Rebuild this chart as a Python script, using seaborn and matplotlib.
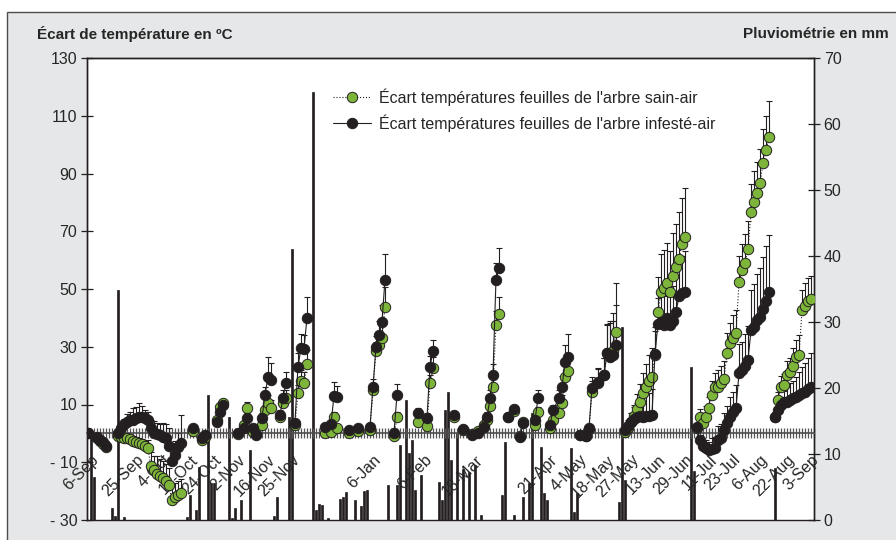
import numpy as np
import pandas as pd
import matplotlib
matplotlib.use('Agg')
import matplotlib.pyplot as plt
from matplotlib.lines import Line2D
from matplotlib.patches import Rectangle
from matplotlib.ticker import MultipleLocator
import seaborn as sns

# --- jours de mesure (position sur l'axe des catégories) ---
jour = [0, 3, 4, 5, 6,
        10, 11, 12, 13, 14, 15, 16, 17, 18, 19, 20, 21, 22, 23, 24, 25, 26, 27, 28, 29, 30, 31,
        35, 38, 39, 43, 44, 45, 50, 52, 53, 55, 56, 58, 59, 60, 61, 64, 65, 66,
        69, 70, 71, 72, 73, 79, 81, 82, 83, 87, 90,
        94, 95, 96, 97, 98, 99, 102, 103, 110, 113, 114, 115, 122,
        125, 128, 130, 132, 133, 134, 135, 136, 137, 140, 142, 144, 145, 149, 150,
        154, 155, 157, 158, 159, 160,
        164, 166, 167, 168, 170, 172, 173, 174, 175, 176,
        179, 180, 181, 182, 183, 184, 185, 186, 187, 188, 189, 190, 191, 192, 193, 194, 195, 196, 197, 198, 199,
        203, 204, 205, 206, 207, 208, 209, 210, 211, 212, 213, 214, 215, 216, 217, 218, 219, 220, 221, 222,
        223, 224, 225, 226, 227,
        229, 230, 231, 232, 233, 234, 235, 236, 237, 238, 239, 240, 241]
# premier jour de chaque série continue de mesures
debut_serie = [0, 10, 35, 38, 43, 50, 55, 58, 64, 69, 79, 87, 94, 102, 110, 122, 125, 140, 144, 149,
               154, 164, 179, 203, 229]

sain = [0, -1.7, -2.8, -3.8, -4.8,
        -1, -1.4, -1.7, -1.7, -2, -2.8, -3.1, -3.5, -3.8, -4.5, -5.2, -11.4, -12.8, -13.9, -14.9, -15.6,
        -16.6, -18, -23.2, -22.2, -21.5, -20.8,
        0.8, -2.4, -1.4, 4.5, 9.0, 10.4, -0.3, 2.8, 8.7, 0.5, -0.3, 2.8, 8.0, 10.4, 8.7, 5.5, 10.4, 12.1,
        2.8, 13.9, 18.0, 17.3, 23.9, 0, 0.5, 5.5, 1.7, 0.3, 0.7,
        1, 14.9, 28.7, 30.5, 33.2, 43.6, -1, 5.5, 3.8, 2.4, 17.3, 22.5, 5.5,
        1, -0.3, 0.7, 2.8, 4.5, 9.4, 15.9, 37.4, 41.2, 5.5, 7.6, -1.0, 3.8, 2.8, 7.3,
        1.7, 4.5, 6.9, 10.4, 19.4, 21.5,
        -0.5, -0.8, 1.5, 14.2, 17.3, 20.1, 28, 27, 28.7, 35,
        0.5, 2, 4, 6, 8.5, 11, 14, 16, 18, 19.5, 27, 42, 49, 50.5, 52, 49, 54.5, 57.5, 60.5, 65.5, 68,
        1.7, 5.5, 3.5, 5.5, 8.7, 13.2, 15.9, 15.9, 17.3, 19, 27.7, 31.2, 32.9, 34.6, 52.3, 56.5, 58.9,
        63.7, 76.5, 80, 83.1, 86.6, 93.5, 98, 102.5,
        5.5, 11.4, 15.9, 16.6, 20.1, 21.1, 23.5, 26.3, 27, 42.6, 44, 45.7, 46.4]
sain_err = [0.5, 1, 1, 1, 1,
            1, 1, 1, 1, 1, 2, 2, 2, 2, 2, 3, 5, 5, 6, 6, 6, 6, 6, 6, 5, 5, 5,
            1, 1, 1, 1, 1.5, 1.5, 1, 1.5, 2, 1, 1, 1, 2, 3, 3, 1, 2, 3,
            1, 3, 4, 4, 5, 1, 1, 2, 1, 0.5, 0.5,
            1, 2, 3, 4, 5, 7, 1, 2, 1, 1, 3, 4, 1,
            0.5, 0.5, 0.5, 1, 1, 2, 3, 5, 6, 1, 1, 1, 1, 1, 2,
            1, 2, 3, 3, 5, 6,
            0.5, 0.5, 1, 4, 5, 6, 10, 12, 13, 17,
            1, 2, 3, 4, 5, 6, 7, 8, 9, 10, 10, 12, 13, 13, 14, 14, 15, 15, 16, 16, 17,
            2, 3, 3, 4, 4, 5, 5, 6, 6, 6, 7, 7, 8, 8, 9, 9, 10, 10, 10, 11, 11, 12, 12, 12, 12.5,
            2, 3, 4, 4, 5, 5, 6, 6, 7, 7, 8, 8, 8]

infeste = [0, -1.4, -2.4, -3.1, -4.2,
           0, 1.7, 3.1, 3.8, 4.5, 4.8, 5.2, 5.5, 5.5, 5.2, 4.5, 1.7, 0.3, -0.3, -0.7, -1.4, -1.7, -4.2,
           -9.5, -7.5, -4.8, -3.5,
           1.7, -1.7, -0.7, 3.8, 7.3, 9.7, 0, 2, 5.2, 1.7, -0.7, 5.2, 13.2, 19.4, 18.4, 6.2, 12.1, 17.3,
           3.5, 22.9, 29.4, 29.1, 39.8, 2.1, 3.1, 12.8, 12.5, 1.0, 1.7,
           2.1, 15.9, 29.8, 33.9, 38.4, 53, 0, 13.2, 6.9, 5.2, 22.9, 28.4, 6.2,
           1.4, -0.7, 0.3, 2.1, 5.5, 12.1, 20.1, 53, 57.1, 5.5, 8.3, -1.4, 3.5, 4.5, 12.1,
           2.8, 8, 12.1, 15.9, 24.6, 26.3,
           -0.7, -1, 1.7, 15.6, 17.7, 20.1, 27.7, 26.3, 27, 30.5,
           1, 2.5, 4, 5, 5.5, 6, 5.5, 6, 6, 6.5, 27.5, 38, 38.5, 37.5, 40, 37.5, 39, 42, 47.5, 48.5, 49,
           2.1, -2.4, -4.5, -5.2, -5.9, -5.5, -5.2, -2.4, -1.7, 1, 3.5, 5.5, 7.3, 8.7, 20.8, 21.8, 23.5,
           25.3, 35.7, 36.7, 39.1, 40.2, 43, 46, 48.8,
           5.5, 8, 9.7, 10.7, 11, 11.4, 12.1, 12.5, 13.2, 13.9, 14.5, 15.2, 15.9]
infeste_err = [0.5, 1, 1, 1, 1.5,
               1, 2, 2, 3, 3, 4, 4, 5, 4, 3, 3, 3, 4, 4, 4, 5, 5, 6, 6, 5, 5, 10,
               1, 1, 1, 1, 1.5, 1.5, 1, 1.5, 2, 1, 1, 2, 3, 7, 6, 2, 3, 4,
               1, 5, 5, 5, 7.5, 1, 1, 5, 4, 0.5, 0.5,
               1, 3, 4, 5, 6, 9, 1, 4, 2, 2, 4, 4, 1,
               0.5, 0.5, 0.5, 1, 2, 3, 4, 6, 7, 1, 1, 1, 1, 1, 3,
               1, 2, 3, 4, 6, 8,
               0.5, 0.5, 1, 4, 5, 6, 10, 12, 12, 14,
               1, 2, 3, 4, 5, 6, 7, 8, 8, 9, 8, 9, 10, 10, 11, 11, 12, 12, 13, 13, 14,
               1, 2, 2, 3, 3, 4, 4, 5, 5, 6, 6, 7, 7, 8, 10, 10, 11, 12, 14, 15, 16, 17, 18, 19, 20,
               1, 2, 3, 4, 5, 6, 6, 7, 8, 9, 10, 11, 12]

# --- pluviométrie ---
pluie_jour = [1, 2, 8, 9, 10, 12, 33, 34, 36, 37, 40, 41, 42, 47, 48, 49, 51, 54, 62, 63, 67, 68,
              75, 76, 77, 78, 80, 84, 85, 86, 89, 91, 92, 93, 100, 103, 104, 106, 107, 108, 109, 111,
              117, 118, 119, 120, 121, 123, 125, 127, 129, 131, 138, 139, 142, 145, 147, 148, 151, 152,
              153, 161, 162, 163, 177, 178, 179, 201, 202, 229]
pluie_mm = [12.9, 6.5, 1.8, 0.6, 34.8, 0.5, 0.5, 3.8, 1.5, 8.0, 19.0, 5.6, 5.6, 15.6, 0.3, 1.8, 3.0, 10.6,
            0.6, 3.5, 15.6, 41.0, 64.8, 1.5, 2.4, 2.3, 0.3, 3.2, 3.5, 4.2, 3.0, 2.1, 4.4, 4.5, 5.3, 5.3,
            11.4, 18.2, 10.2, 12.1, 4.5, 6.8, 5.8, 3.0, 16.7, 19.4, 9.1, 13.2, 7.8, 7.3, 8.3, 0.8, 3.8,
            11.8, 0.8, 3.5, 5.6, 16.2, 11.1, 4.1, 3.0, 10.9, 1.2, 4.1, 2.7, 29.2, 6.0, 23.2, 7.4, 7.9]

# --- étiquettes de dates ---
date_jour = [1, 16, 25, 34, 42, 50, 60, 68, 95, 112, 129, 154, 164, 173, 181, 190, 199, 207, 215, 224,
             233, 241]
date_label = ['6-Sep', '25-Sep', '4-Oct', '14-Oct', '24-Oct', '2-Nov', '16-Nov', '25-Nov', '6-Jan',
              '6-Feb', '18-Mar', '21-Apr', '4-May', '18-May', '27-May', '13-Jun', '29-Jun', '11-Jul',
              '23-Jul', '6-Aug', '22-Aug', '3-Sep']

temp_ticks = [-30, -10, 10, 30, 50, 70, 90, 110, 130]
temp_labels = ['- 30', '- 10', '10', '30', '50', '70', '90', '110', '130']

NOIR = '#231f20'
VERT = '#7db53b'

df = pd.DataFrame({'jour': jour, 'sain': sain, 'sain_err': sain_err,
                   'infeste': infeste, 'infeste_err': infeste_err})
df['serie'] = np.searchsorted(debut_serie, df['jour'], side='right')

sns.set_style("ticks")
plt.rcParams['font.family'] = ['Liberation Sans', 'DejaVu Sans']

fig = plt.figure(figsize=(8.96, 5.40), dpi=100)
fig.patch.set_facecolor('white')
fig.add_artist(Rectangle((7 / 896, -0.05), 1.0, 1 - 12 / 540 + 0.05, transform=fig.transFigure,
                         facecolor='#e6e7e8', edgecolor='#4d4d4f', lw=1.0, zorder=-10))

ax = fig.add_axes([87 / 896, 20 / 540, 727 / 896, 462 / 540])
ax2 = ax.twinx()
ax.set_zorder(2)
ax2.set_zorder(1)
ax.patch.set_visible(False)
ax2.patch.set_visible(True)
ax2.patch.set_facecolor('white')

# pluviométrie (axe de droite)
sns.barplot(x=pluie_jour, y=pluie_mm, native_scale=True, color=NOIR, saturation=1,
            width=0.6, errorbar=None, edgecolor=NOIR, linewidth=0.5, ax=ax2)

# barres d'erreur (vers le haut uniquement)
zeros = np.zeros(len(df))
ax.errorbar(df['jour'], df['sain'], yerr=[zeros, df['sain_err']], fmt='none', ecolor=NOIR,
            elinewidth=0.8, capsize=2.5, capthick=0.8, zorder=2)
ax.errorbar(df['jour'], df['infeste'], yerr=[zeros, df['infeste_err']], fmt='none', ecolor=NOIR,
            elinewidth=0.8, capsize=2.5, capthick=0.8, zorder=2)

sns.lineplot(data=df, x='jour', y='sain', units='serie', estimator=None, color=NOIR, lw=0.8,
             linestyle=':', marker='o', markersize=7.5, markerfacecolor=VERT, markeredgecolor=NOIR,
             markeredgewidth=0.7, legend=False, ax=ax, zorder=3)
sns.lineplot(data=df, x='jour', y='infeste', units='serie', estimator=None, color=NOIR, lw=0.8,
             linestyle='-', marker='o', markersize=7.5, markerfacecolor=NOIR, markeredgecolor=NOIR,
             markeredgewidth=0.7, legend=False, ax=ax, zorder=4)

# axes
ax.set_xlim(-0.3, 242)
ax.set_ylim(-30, 130)
ax2.set_ylim(0, 70)
ax.set_xlabel('')
ax.set_ylabel('')
ax2.set_ylabel('')

ax.spines['bottom'].set_position(('data', 0))
ax.spines['bottom'].set_color('#4d4d4f')
ax.spines['bottom'].set_linewidth(1.2)
for s in ['left', 'top', 'right']:
    ax.spines[s].set_color(NOIR)
    ax.spines[s].set_linewidth(1.0)
for s in ax2.spines.values():
    s.set_color(NOIR)
    s.set_linewidth(1.0)

ax.set_xticks(date_jour)
ax.set_xticklabels(date_label, rotation=45, ha='right', rotation_mode='anchor', fontsize=11.5)
ax.xaxis.set_minor_locator(MultipleLocator(1))
ax.tick_params(axis='x', which='both', direction='inout', length=7, width=0.9, color='#555555')
ax.tick_params(axis='x', which='major', pad=10)

ax.set_yticks(temp_ticks)
ax.set_yticklabels(temp_labels, fontsize=11.5)
ax.tick_params(axis='y', direction='inout', length=8, width=0.9, color=NOIR, pad=3)
ax2.set_yticks(range(0, 80, 10))
ax2.tick_params(axis='y', direction='inout', length=8, width=0.9, color=NOIR, labelsize=11.5, pad=3)

fig.text(37 / 896, 1 - 34 / 540, "Écart de température en ºC", fontweight='bold', fontsize=11,
         ha='left', va='center')
fig.text(889 / 896, 1 - 34 / 540, "Pluviométrie en mm", fontweight='bold', fontsize=11,
         ha='right', va='center')

handles = [Line2D([], [], color=NOIR, ls=':', lw=0.8, marker='o', ms=7.5, mfc=VERT, mec=NOIR, mew=0.7),
           Line2D([], [], color=NOIR, ls='-', lw=0.8, marker='o', ms=7.5, mfc=NOIR, mec=NOIR, mew=0.7)]
ax.legend(handles, ["Écart températures feuilles de l'arbre sain-air",
                    "Écart températures feuilles de l'arbre infesté-air"],
          loc='upper left', bbox_to_anchor=((333 - 87) / 727, (520 - 88) / 462), frameon=False,
          fontsize=11.5, handlelength=2.4, handletextpad=0.5, labelspacing=0.55, borderaxespad=0,
          borderpad=0)

fig.savefig('out.png', dpi=100)
